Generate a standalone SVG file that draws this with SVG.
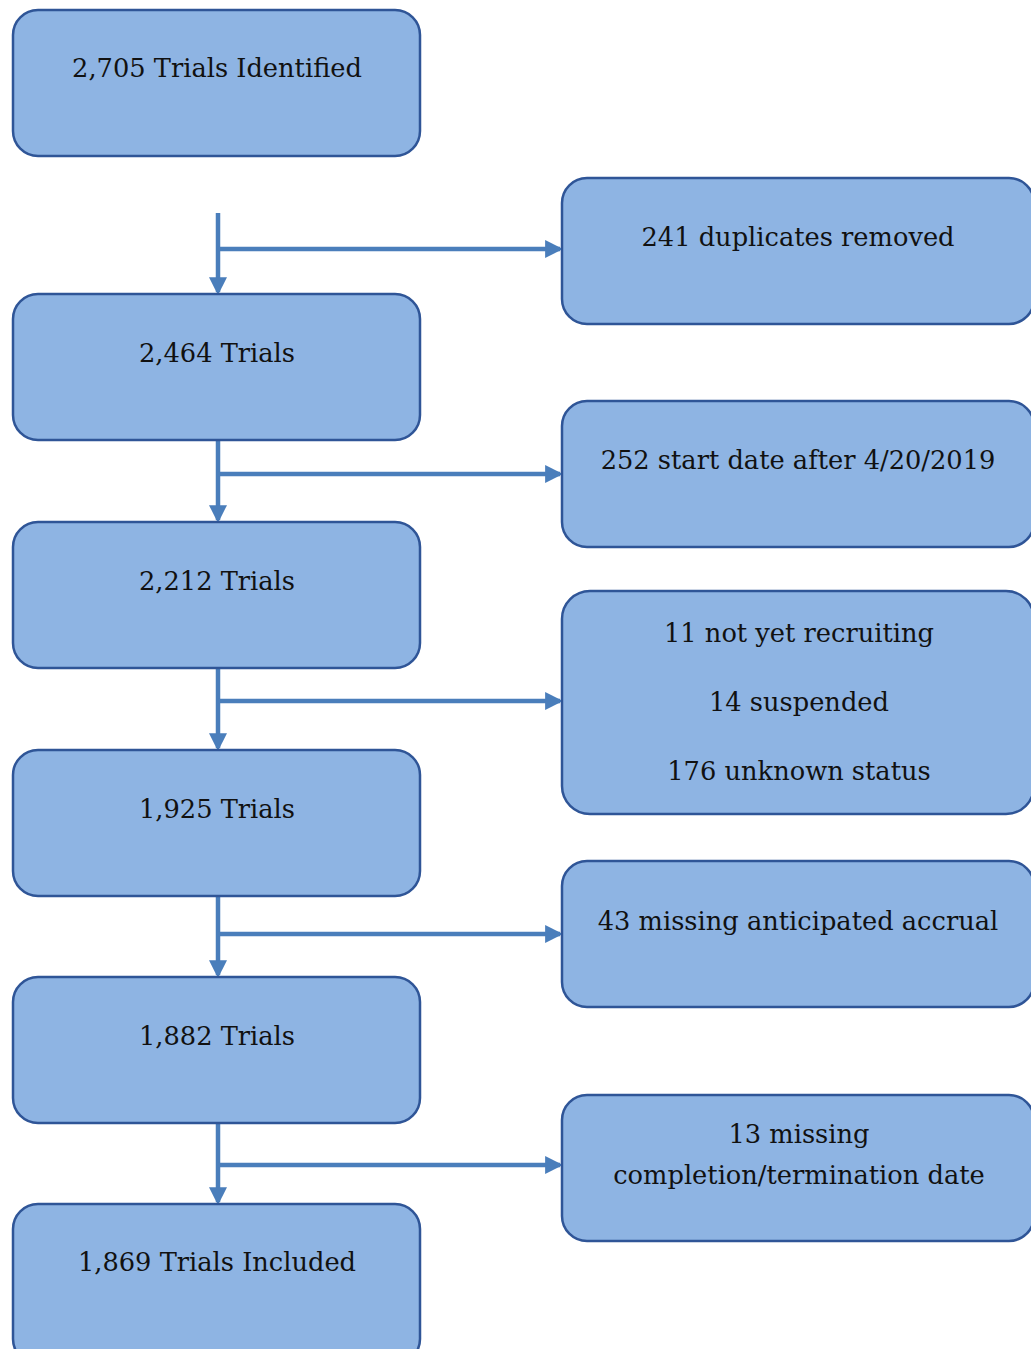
<svg xmlns="http://www.w3.org/2000/svg" width="1031" height="1349" viewBox="0 0 1031 1349">
<style>
.box{fill:#8EB4E3;stroke:#2F5597;stroke-width:2.5}
.t{font-family:"DejaVu Serif","Liberation Serif",serif;font-size:25.7px;fill:#111;text-anchor:middle}
.c{stroke:#4A7EBB;stroke-width:4.5;fill:none}
</style>
<defs>
<marker id="ah" markerWidth="4" markerHeight="4" refX="3.3" refY="2" orient="auto" markerUnits="strokeWidth">
<path d="M0,0 L4,2 L0,4 Z" fill="#4A7EBB"/>
</marker>
</defs>
<rect width="1031" height="1349" fill="#fff"/>
<g id="connectors">
<path class="c" d="M218,213 V292" marker-end="url(#ah)"/>
<path class="c" d="M218,249 H560" marker-end="url(#ah)"/>
<path class="c" d="M218,440 V520" marker-end="url(#ah)"/>
<path class="c" d="M218,474 H560" marker-end="url(#ah)"/>
<path class="c" d="M218,668 V748" marker-end="url(#ah)"/>
<path class="c" d="M218,701 H560" marker-end="url(#ah)"/>
<path class="c" d="M218,896 V975" marker-end="url(#ah)"/>
<path class="c" d="M218,934 H560" marker-end="url(#ah)"/>
<path class="c" d="M218,1123 V1202" marker-end="url(#ah)"/>
<path class="c" d="M218,1165 H560" marker-end="url(#ah)"/>
</g>
<g id="n1"><rect class="box" x="13" y="10" width="407" height="146" rx="25"/><text class="t" x="217" y="77">2,705 Trials Identified</text></g>
<g id="r1"><rect class="box" x="562" y="178" width="472" height="146" rx="25"/><text class="t" x="798" y="246">241 duplicates removed</text></g>
<g id="n2"><rect class="box" x="13" y="294" width="407" height="146" rx="25"/><text class="t" x="217" y="362">2,464 Trials</text></g>
<g id="r2"><rect class="box" x="562" y="401" width="472" height="146" rx="25"/><text class="t" x="798" y="469">252 start date after 4/20/2019</text></g>
<g id="n3"><rect class="box" x="13" y="522" width="407" height="146" rx="25"/><text class="t" x="217" y="590">2,212 Trials</text></g>
<g id="r3"><rect class="box" x="562" y="591" width="472" height="223" rx="28"/><text class="t" x="799" y="642">11 not yet recruiting</text><text class="t" x="799" y="711">14 suspended</text><text class="t" x="799" y="780">176 unknown status</text></g>
<g id="n4"><rect class="box" x="13" y="750" width="407" height="146" rx="25"/><text class="t" x="217" y="818">1,925 Trials</text></g>
<g id="r4"><rect class="box" x="562" y="861" width="472" height="146" rx="25"/><text class="t" x="798" y="930">43 missing anticipated accrual</text></g>
<g id="n5"><rect class="box" x="13" y="977" width="407" height="146" rx="25"/><text class="t" x="217" y="1045">1,882 Trials</text></g>
<g id="r5"><rect class="box" x="562" y="1095" width="472" height="146" rx="25"/><text class="t" x="799" y="1143">13 missing</text><text class="t" x="799" y="1184">completion/termination date</text></g>
<g id="n6"><rect class="box" x="13" y="1204" width="407" height="160" rx="25"/><text class="t" x="217" y="1271">1,869 Trials Included</text></g>
</svg>
